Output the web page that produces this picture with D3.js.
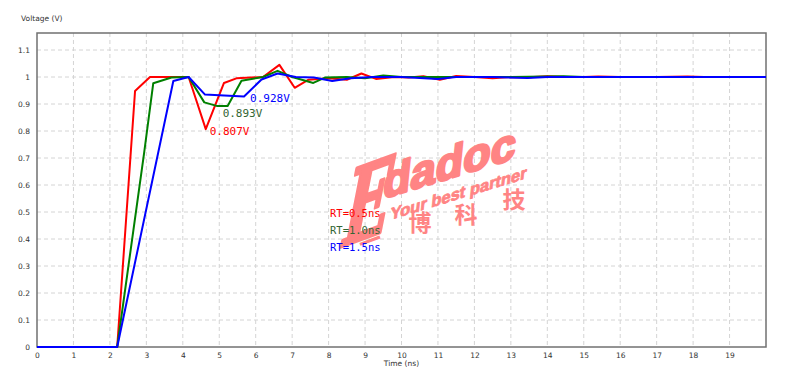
<!DOCTYPE html>
<html>
<head>
<meta charset="utf-8">
<script src="https://cdn.jsdelivr.net/npm/d3@7"></script>
<style>
  body { margin: 0; background: #fff; }
  svg { display: block; }
</style>
</head>
<body>
<div id="chart"></div>
<script>
// time (ns) / voltage (V) samples
const redT   = [0, 2.2, 2.69, 3.1, 4.16, 4.63, 5.13, 5.47, 6.2, 6.65, 7.07, 7.45, 8.0, 8.5, 8.9, 9.3, 9.8, 10.2, 10.6, 11.05, 11.5, 12.0, 12.5, 13.0, 13.5, 14.0, 14.5, 15.0, 15.4, 16.0, 17.0, 17.85, 18.3, 20];
const redV   = [0, 0, 0.948, 1.0, 1.0, 0.807, 0.978, 0.995, 1.0, 1.045, 0.96, 0.99, 0.995, 0.99, 1.013, 0.993, 1.0, 0.998, 1.003, 0.99, 1.004, 1.0, 0.995, 1.0, 0.999, 1.003, 1.0, 1.0, 1.002, 1.0, 1.0, 1.002, 1.0, 1.0];
const greenT = [0, 2.2, 2.94, 3.19, 3.69, 4.16, 4.59, 4.93, 5.23, 5.61, 6.2, 6.6, 7.0, 7.58, 7.9, 8.5, 9.0, 9.5, 10, 11, 12, 13, 14.45, 15, 20];
const greenV = [0, 0, 0.72, 0.977, 0.998, 1.0, 0.906, 0.893, 0.893, 0.986, 1.0, 1.023, 1.0, 0.978, 0.998, 1.0, 0.995, 1.006, 1.0, 1.0, 1.0, 1.0, 1.003, 1.0, 1.0];
const blueT  = [0, 2.2, 3.74, 4.16, 4.61, 5.0, 5.68, 6.16, 6.6, 7.1, 7.6, 8.1, 8.6, 9.2, 10, 11.0, 11.5, 12.5, 13.46, 14, 20];
const blueV  = [0, 0, 0.985, 1.0, 0.935, 0.932, 0.928, 0.991, 1.013, 1.0, 0.998, 0.985, 0.995, 1.0, 1.0, 0.993, 1.0, 1.0, 0.996, 1.0, 1.0];

const seriesNames  = ['RT=0.5ns', 'RT=1.0ns', 'RT=1.5ns'];
const seriesColors = ['#ff0000', '#008000', '#0000ff'];
const legendColors = ['#ff0000', '#336633', '#0000ff'];
const xTicks = d3.range(0, 20);
const yTicks = [0, 0.1, 0.2, 0.3, 0.4, 0.5, 0.6, 0.7, 0.8, 0.9, 1, 1.1];

// minimum-point labels: [series index, time, voltage, text]
const minLabels = [
  [0, 4.63, 0.807, '0.807V'],
  [1, 5.23, 0.893, '0.893V'],
  [2, 5.68, 0.928, '0.928V']
];

const width = 800, height = 376;
const m = { left: 37, top: 33, right: 34, bottom: 29 };

const svg = d3.select('#chart').append('svg')
  .attr('width', width)
  .attr('height', height);

const x = d3.scaleLinear().domain([0, 20]).range([m.left, width - m.right]);
const y = d3.scaleLinear().domain([0, 1.163]).range([height - m.bottom, m.top]);

// grid
const grid = svg.append('g').attr('stroke', '#d4d4d4').attr('stroke-dasharray', '4,3');
grid.selectAll('line.v').data(xTicks.slice(1)).enter().append('line')
  .attr('x1', d => x(d)).attr('x2', d => x(d))
  .attr('y1', y.range()[1]).attr('y2', y.range()[0]);
grid.selectAll('line.h').data(yTicks.slice(1)).enter().append('line')
  .attr('x1', x.range()[0]).attr('x2', x.range()[1])
  .attr('y1', d => y(d)).attr('y2', d => y(d));

// axes (labels only, frame drawn separately)
const xAxis = svg.append('g')
  .attr('transform', `translate(0,${height - m.bottom})`)
  .call(d3.axisBottom(x).tickValues(xTicks).tickSize(0).tickPadding(6).tickFormat(d3.format('d')));
const yAxis = svg.append('g')
  .attr('transform', `translate(${m.left},0)`)
  .call(d3.axisLeft(y).tickValues(yTicks).tickSize(0).tickPadding(7).tickFormat(d => String(+d.toFixed(1))));
[xAxis, yAxis].forEach(a => {
  a.select('.domain').remove();
  a.selectAll('text').attr('font-family', 'DejaVu Sans, sans-serif').attr('font-size', 7.5).attr('fill', '#333');
});

svg.append('rect')
  .attr('x', x(0)).attr('y', y(1.163))
  .attr('width', x(20) - x(0)).attr('height', y(0) - y(1.163))
  .attr('fill', 'none').attr('stroke', '#707070').attr('stroke-width', 1.5);

svg.append('text').attr('x', 21).attr('y', 21)
  .attr('font-family', 'DejaVu Sans, sans-serif').attr('font-size', 7.5).attr('fill', '#333')
  .text('Voltage (V)');
svg.append('text').attr('x', x(10)).attr('y', 366).attr('text-anchor', 'middle')
  .attr('font-family', 'DejaVu Sans, sans-serif').attr('font-size', 7.5).attr('fill', '#333')
  .text('Time (ns)');

// watermark
const wm = svg.append('g').attr('fill', '#ff8484').attr('stroke', '#ff8484').attr('stroke-linejoin', 'round');
wm.append('text')
  .attr('transform', 'translate(338,248) skewY(-20) skewX(-12) scale(0.6,1)')
  .attr('font-family', 'DejaVu Serif, serif').attr('font-weight', 'bold')
  .attr('font-size', 100).attr('stroke-width', 3.5)
  .text('E');
wm.append('text')
  .attr('transform', 'translate(382,199) skewY(-17) skewX(-6)')
  .attr('font-family', 'Liberation Sans, sans-serif').attr('font-weight', 'bold')
  .attr('font-size', 45).attr('stroke-width', 2.5)
  .text('dadoc');
wm.append('text')
  .attr('transform', 'translate(390,220) skewY(-17) skewX(-6)')
  .attr('font-family', 'Liberation Sans, sans-serif').attr('font-weight', 'bold')
  .attr('font-size', 16.5).attr('stroke-width', 0.8)
  .text('Your best partner');
const cjk = [['一', 373, 249, -20], ['博', 420, 231, 0], ['科', 466, 223, 0], ['技', 514, 208, 0]];
wm.selectAll('text.cjk').data(cjk).enter().append('text')
  .attr('class', 'cjk')
  .attr('transform', d => `translate(${d[1]},${d[2]}) rotate(${d[3]})`)
  .attr('text-anchor', 'middle')
  .attr('font-family', 'Noto Sans CJK SC').attr('font-weight', 'bold')
  .attr('font-size', 23).attr('stroke-width', 0)
  .text(d => d[0]);

// lines
const series = [[redT, redV], [greenT, greenV], [blueT, blueV]].map(([t, v], i) => ({
  name: seriesNames[i],
  color: seriesColors[i],
  points: t.map((d, j) => [d, v[j]])
}));
const line = d3.line().x(d => x(d[0])).y(d => y(d[1]));
svg.append('g').selectAll('path').data(series).enter().append('path')
  .attr('d', d => line(d.points))
  .attr('fill', 'none')
  .attr('stroke', d => d.color)
  .attr('stroke-width', 2)
  .attr('stroke-linejoin', 'round');

// min labels
svg.append('g').selectAll('text').data(minLabels).enter().append('text')
  .attr('x', (d, i) => x(d[1]) + [4, -5, 6][i])
  .attr('y', (d, i) => y(d[2]) + [6, 11, 6][i])
  .attr('font-family', 'DejaVu Sans Mono, monospace').attr('font-size', 11)
  .attr('fill', d => legendColors[d[0]])
  .text(d => d[3]);

// legend
svg.append('g').selectAll('text').data(seriesNames).enter().append('text')
  .attr('x', 330).attr('y', (d, i) => 217 + i * 17)
  .attr('font-family', 'DejaVu Sans Mono, monospace').attr('font-size', 10.5)
  .attr('fill', (d, i) => legendColors[i])
  .text(d => d);
</script>
</body>
</html>
